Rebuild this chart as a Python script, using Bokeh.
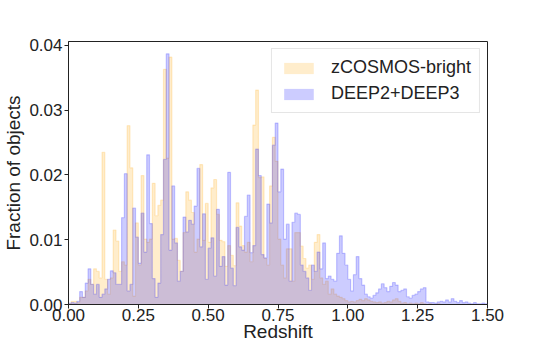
from bokeh.plotting import figure
from bokeh.models import FixedTicker, PrintfTickFormatter, Range1d, Legend, LegendItem
from bokeh.embed import file_html
from bokeh.resources import INLINE

bin_width = 0.01
n_bins = 150
bin_edges = [round(i * bin_width, 2) for i in range(n_bins + 1)]

zcosmos = [
    0.0001, 0.0005, 0.0005, 0.0003, 0.0011, 0.0011, 0.0021, 0.0039, 0.0031, 0.0055,
    0.0051, 0.0041, 0.0235, 0.0039, 0.0016, 0.0041, 0.0115, 0.0098, 0.0051, 0.0066,
    0.0061, 0.0276, 0.0211, 0.0013, 0.0126, 0.0061, 0.0199, 0.0101, 0.0096, 0.0101,
    0.0187, 0.0137, 0.0153, 0.0161, 0.0363, 0.0226, 0.0382, 0.0101, 0.0102, 0.0068,
    0.0051, 0.0111, 0.0174, 0.0161, 0.0142, 0.0081, 0.0101, 0.0216, 0.0099, 0.0156,
    0.0096, 0.0180, 0.0193, 0.0139, 0.0099, 0.0097, 0.0059, 0.0091, 0.0076, 0.0060,
    0.0157, 0.0121, 0.0091, 0.0081, 0.0096, 0.0066, 0.0277, 0.0331, 0.0196, 0.0197,
    0.0071, 0.0061, 0.0183, 0.0258, 0.0221, 0.0101, 0.0061, 0.0041, 0.0086, 0.0086,
    0.0036, 0.0111, 0.0111, 0.0090, 0.0071, 0.0056, 0.0061, 0.0039, 0.0096, 0.0108,
    0.0041, 0.0031, 0.0036, 0.0016, 0.0024, 0.0016, 0.0013, 0.0011, 0.0009, 0.0006,
    0.0004, 0.0005, 0.0004, 0.0006, 0.0008, 0.0006, 0.0009, 0.0007, 0.0005, 0.0004,
    0.0003, 0.0004, 0.0002, 0.0003, 0.0005, 0.0004, 0.0007, 0.0009, 0.0005, 0.0002,
    0.0003, 0.0001, 0.0002, 0.0001, 0.0002, 0.0001, 0.0003, 0.0001, 0.0000, 0.0001,
    0.0000, 0.0000, 0.0001, 0.0000, 0.0000, 0.0000, 0.0000, 0.0000, 0.0000, 0.0000,
    0.0000, 0.0000, 0.0000, 0.0000, 0.0000, 0.0000, 0.0000, 0.0000, 0.0000, 0.0000,
]

deep = [
    0.0002, 0.0003, 0.0002, 0.0005, 0.0020, 0.0011, 0.0033, 0.0055, 0.0031, 0.0016,
    0.0031, 0.0011, 0.0016, 0.0024, 0.0039, 0.0052, 0.0049, 0.0031, 0.0031, 0.0134,
    0.0202, 0.0021, 0.0031, 0.0149, 0.0104, 0.0064, 0.0141, 0.0081, 0.0231, 0.0125,
    0.0040, 0.0011, 0.0033, 0.0108, 0.0224, 0.0387, 0.0084, 0.0183, 0.0095, 0.0036,
    0.0051, 0.0135, 0.0112, 0.0130, 0.0124, 0.0152, 0.0210, 0.0089, 0.0140, 0.0039,
    0.0087, 0.0103, 0.0044, 0.0147, 0.0059, 0.0074, 0.0030, 0.0204, 0.0056, 0.0029,
    0.0119, 0.0089, 0.0084, 0.0136, 0.0169, 0.0080, 0.0091, 0.0240, 0.0199, 0.0077,
    0.0072, 0.0155, 0.0126, 0.0246, 0.0280, 0.0174, 0.0209, 0.0101, 0.0124, 0.0036,
    0.0127, 0.0141, 0.0139, 0.0061, 0.0051, 0.0041, 0.0022, 0.0061, 0.0051, 0.0081,
    0.0055, 0.0095, 0.0040, 0.0044, 0.0039, 0.0036, 0.0079, 0.0106, 0.0079, 0.0061,
    0.0039, 0.0021, 0.0046, 0.0074, 0.0040, 0.0030, 0.0016, 0.0012, 0.0010, 0.0014,
    0.0018, 0.0024, 0.0032, 0.0026, 0.0020, 0.0028, 0.0034, 0.0030, 0.0020, 0.0022,
    0.0024, 0.0012, 0.0010, 0.0014, 0.0016, 0.0020, 0.0024, 0.0026, 0.0004, 0.0003,
    0.0003, 0.0002, 0.0004, 0.0005, 0.0004, 0.0007, 0.0004, 0.0009, 0.0005, 0.0003,
    0.0006, 0.0003, 0.0004, 0.0002, 0.0001, 0.0003, 0.0001, 0.0001, 0.0002, 0.0001,
]

labels = ["zCOSMOS-bright", "DEEP2+DEEP3"]
x_ticks = [0.0, 0.25, 0.5, 0.75, 1.0, 1.25, 1.5]
y_ticks = [0.0, 0.01, 0.02, 0.03, 0.04]

FONT = "Liberation Sans"

p = figure(width=524, height=344, output_backend="svg", toolbar_location=None,
           x_range=Range1d(0, 1.5), y_range=Range1d(0, 0.0406),
           min_border_left=67, min_border_right=37, min_border_top=41, min_border_bottom=0)
p.xgrid.visible = False
p.ygrid.visible = False
p.outline_line_color = "#222222"
p.outline_line_width = 1

renderers = []
for vals, col in [(zcosmos, "#FFA500"), (deep, "#0000FF")]:
    ys = list(vals) + [vals[-1]]
    r = p.varea_step(x=bin_edges, y1=[0] * len(ys), y2=ys, step_mode="after",
                     fill_color=col, fill_alpha=0.2)
    p.step(x=bin_edges, y=ys, mode="after", line_color=col, line_alpha=0.2, line_width=1.2)
    renderers.append(r)

legend = Legend(items=[LegendItem(label=labels[0], renderers=[renderers[0]]),
                       LegendItem(label=labels[1], renderers=[renderers[1]])],
                location="top_right")
legend.label_text_font = FONT
legend.label_text_font_size = "18px"
legend.label_text_color = "#222222"
legend.glyph_width = 37
legend.glyph_height = 14
legend.label_standoff = 14
legend.padding = 8
legend.spacing = 5
legend.margin = 7
legend.border_line_color = "#cccccc"
legend.border_line_width = 1
legend.background_fill_alpha = 0.8
p.add_layout(legend)

for ax in (p.xaxis[0], p.yaxis[0]):
    ax.major_label_text_font = FONT
    ax.major_label_text_font_size = "17px"
    ax.major_label_text_color = "#222222"
    ax.axis_label_text_font = FONT
    ax.axis_label_text_font_size = "19px"
    ax.axis_label_text_font_style = "normal"
    ax.axis_label_text_color = "#222222"
    ax.major_tick_out = 4
    ax.major_tick_in = 0
    ax.minor_tick_out = 0
    ax.minor_tick_in = 0
    ax.axis_line_color = "#222222"
    ax.major_tick_line_color = "#222222"
    ax.formatter = PrintfTickFormatter(format="%.2f")

p.xaxis[0].major_label_standoff = 0
p.xaxis[0].axis_label_standoff = -3
p.yaxis[0].major_label_standoff = 2
p.yaxis[0].axis_label_standoff = 2

p.xaxis[0].ticker = FixedTicker(ticks=x_ticks)
p.yaxis[0].ticker = FixedTicker(ticks=y_ticks)
p.xaxis[0].axis_label = "Redshift"
p.yaxis[0].axis_label = "Fraction of objects"

open("out.html", "w").write(file_html(p, INLINE))
